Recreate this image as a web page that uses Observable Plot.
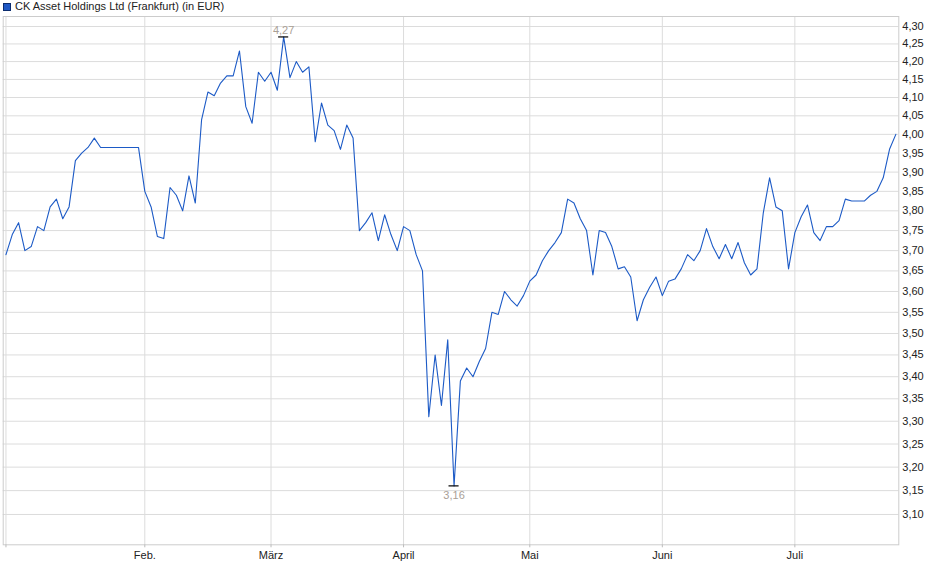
<!DOCTYPE html>
<html><head><meta charset="utf-8">
<script src="https://cdn.jsdelivr.net/npm/d3@7"></script>
<script src="https://cdn.jsdelivr.net/npm/@observablehq/plot@0.6"></script>
<style>
body{margin:0;background:#fff;font-family:"Liberation Sans",Arial,sans-serif;}
#wrap{position:relative;width:940px;height:579px;}
#sw{position:absolute;left:3px;top:3px;width:6px;height:6px;background:#1f58c4;border:1px solid #0b2c6e;}
#title{position:absolute;left:15px;top:1px;font-size:11px;line-height:11px;color:#222;white-space:nowrap;}
#chart{position:absolute;left:0;top:0;}
</style></head>
<body><div id="wrap"><div id="chart"></div><div id="sw"></div><div id="title"></div></div>
<script>
const seriesName = "CK Asset Holdings Ltd (Frankfurt) (in EUR)";
const prices = [
  3.69,3.74,3.77,3.70,3.71,3.76,3.75,3.81,3.83,3.78,
  3.81,3.93,3.95,3.965,3.99,3.965,3.965,3.965,3.965,3.965,
  3.965,3.965,3.85,3.81,3.735,3.73,3.86,3.84,3.80,3.89,
  3.82,4.04,4.115,4.105,4.14,4.16,4.16,4.23,4.075,4.03,
  4.17,4.145,4.17,4.12,4.27,4.155,4.20,4.17,4.185,3.98,
  4.085,4.025,4.01,3.96,4.025,3.99,3.75,3.77,3.795,3.725,
  3.79,3.74,3.70,3.76,3.75,3.69,3.65,3.31,3.45,3.335,
  3.485,3.16,3.39,3.42,3.40,3.435,3.465,3.55,3.545,3.60,
  3.58,3.565,3.59,3.625,3.64,3.675,3.70,3.72,3.745,3.83,
  3.82,3.78,3.75,3.64,3.75,3.745,3.71,3.655,3.66,3.635,
  3.53,3.58,3.61,3.635,3.59,3.625,3.63,3.655,3.69,3.675,
  3.70,3.755,3.71,3.68,3.715,3.68,3.72,3.67,3.64,3.655,
  3.795,3.885,3.81,3.80,3.655,3.745,3.785,3.815,3.745,3.725,
  3.76,3.76,3.775,3.83,3.825,3.825,3.825,3.84,3.85,3.885,
  3.96,4.00
];
const monthTickIndex = [0, 22, 42, 63, 83, 104, 125];
const monthLabels = ["", "Feb.", "März", "April", "Mai", "Juni", "Juli"];
const yTickValues = [3.10,3.15,3.20,3.25,3.30,3.35,3.40,3.45,3.50,3.55,3.60,3.65,3.70,
  3.75,3.80,3.85,3.90,3.95,4.00,4.05,4.10,4.15,4.20,4.25,4.30];

document.getElementById("title").textContent = seriesName;

const data = prices.map((v, i) => ({i, v}));
const extremes = [
  {...data[d3.maxIndex(prices)], pos: "top"},
  {...data[d3.minIndex(prices)], pos: "bottom"}
];
const fmt = d => d.toFixed(2).replace(".", ",");
const font = '"Liberation Sans", Arial, sans-serif';

const chart = Plot.plot({
  width: 940, height: 579,
  marginTop: 16, marginBottom: 34.7, marginLeft: 2.7, marginRight: 41.7,
  style: {fontFamily: font, fontSize: "11px", color: "#222", background: "transparent"},
  x: {type: "linear", domain: [-0.437, 141.47]},
  y: {type: "log", domain: [3.0376, 4.3289]},
  marks: [
    Plot.ruleY(yTickValues, {stroke: "#dcdcdc", strokeWidth: 1}),
    Plot.ruleX(monthTickIndex, {stroke: "#dcdcdc", strokeWidth: 1}),
    Plot.frame({stroke: "#cccccc"}),
    Plot.axisY(yTickValues, {anchor: "right", tickSize: 0, tickPadding: 3.5,
      tickFormat: fmt, label: null, fill: "#222", fontSize: 11}),
    Plot.axisX(monthTickIndex, {anchor: "bottom", tickSize: 3, tickPadding: 3,
      tickFormat: d => monthLabels[monthTickIndex.indexOf(d)], label: null,
      stroke: "#bbbbbb", fill: "#222", fontSize: 11}),
    Plot.line(data, {x: "i", y: "v", stroke: "#1c5ac6", strokeWidth: 1.1}),
    Plot.ruleY(extremes, {y: "v", x1: d => d.i - 0.8, x2: d => d.i + 0.8, stroke: "#000", strokeWidth: 1.2}),
    Plot.text(extremes, {x: "i", y: "v", text: d => fmt(d.v),
      lineAnchor: "bottom", fill: "#a9a096", fontSize: 11,
      filter: d => d.pos === "top", dy: -3}),
    Plot.text(extremes, {x: "i", y: "v", text: d => fmt(d.v),
      lineAnchor: "top", fill: "#a9a096", fontSize: 11,
      filter: d => d.pos === "bottom", dy: 5})
  ]
});
document.getElementById("chart").appendChild(chart);
</script>
</body></html>
